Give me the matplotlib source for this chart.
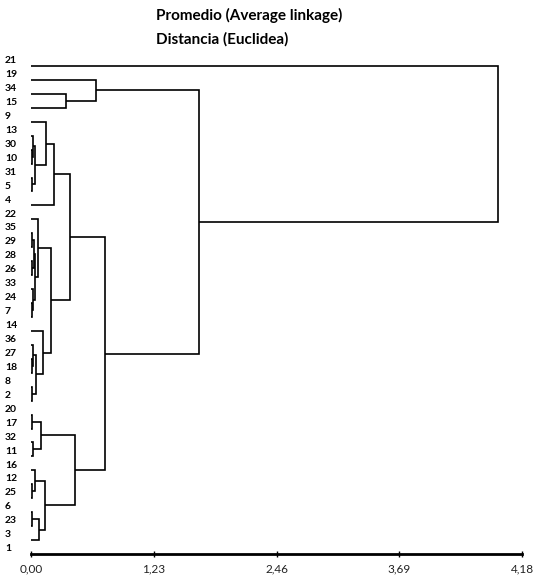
import matplotlib
matplotlib.use("Agg")
import matplotlib.pyplot as plt
from matplotlib.transforms import blended_transform_factory

# leaf order, top to bottom
leaf_labels = ["21", "19", "34", "15", "9", "13", "30", "10", "31", "5", "4",
               "22", "35", "29", "28", "26", "33", "24", "7", "14", "36", "27",
               "18", "8", "2", "20", "17", "32", "11", "16", "12", "25", "6",
               "23", "3", "1"]

# merges: child a, child b, height (leaf labels or "cN" = result of merge N)
link_a = ["34", "19", "30", "13", "31", "c3", "9", "c6", "35", "28", "c8",
          "24", "33", "c10", "22", "27", "36", "8", "c16", "14", "c14", "c7",
          "20", "32", "c22", "12", "16", "6", "c27", "c26", "c24", "c21", "c1", "21"]
link_b = ["15", "c0", "10", "c2", "5", "c4", "c5", "4", "29", "26", "c9",
          "7", "c11", "c12", "c13", "18", "c15", "2", "c17", "c18", "c19", "c20",
          "17", "11", "c23", "25", "c25", "23", "3", "c28", "c29", "c30", "c31", "c32"]
link_h = [0.352, 0.653, 0.008, 0.022, 0.015, 0.040, 0.147, 0.233, 0.012, 0.012,
          0.030, 0.010, 0.022, 0.045, 0.071, 0.010, 0.025, 0.015, 0.051, 0.123,
          0.198, 0.393, 0.010, 0.025, 0.103, 0.015, 0.044, 0.010, 0.085, 0.145,
          0.438, 0.746, 1.68, 4.68]

tick_pos = [0.0, 1.23, 2.46, 3.69, 4.92]
tick_labels = ["0,00", "1,23", "2,46", "3,69", "4,18"]

fig = plt.figure(figsize=(5.34, 5.79), dpi=100)
ax = fig.add_axes([31 / 534, 1 - 554 / 579, (522 - 31) / 534, 495 / 579])

# positions of the nodes
pos = {lab: (0.0, i) for i, lab in enumerate(leaf_labels)}
for n, (a, b, h) in enumerate(zip(link_a, link_b, link_h)):
    ha, ya = pos[a]
    hb, yb = pos[b]
    ax.plot([ha, h, h, hb], [ya, ya, yb, yb], color="black", lw=1.2,
            solid_capstyle="butt", solid_joinstyle="miter")
    pos["c%d" % n] = (h, (ya + yb) / 2)

ax.set_xlim(0, 4.92)
ax.set_ylim(len(leaf_labels) - 1, -0.5)
ax.set_yticks([])
ax.set_xticks(tick_pos)
ax.set_xticklabels(tick_labels, fontsize=8.5, family="Lato", color="#222222")
ax.tick_params(axis="x", direction="inout", length=5, width=1, pad=4)
for s in ["left", "top", "right"]:
    ax.spines[s].set_visible(False)
ax.spines["bottom"].set_linewidth(2)

trans = blended_transform_factory(fig.transFigure, ax.transData)
for i, lab in enumerate(leaf_labels):
    ax.text(5 / 534, i - 0.38, lab, transform=trans, ha="left", va="center",
            fontsize=7.5, fontweight="bold", family="Lato")

fig.text(156 / 534, 1 - 15 / 579, "Promedio (Average linkage)", fontsize=11,
         fontweight="bold", family="Lato", va="center", ha="left")
fig.text(156 / 534, 1 - 39 / 579, "Distancia (Euclidea)", fontsize=11,
         fontweight="bold", family="Lato", va="center", ha="left")

fig.savefig("out.png", dpi=100)
